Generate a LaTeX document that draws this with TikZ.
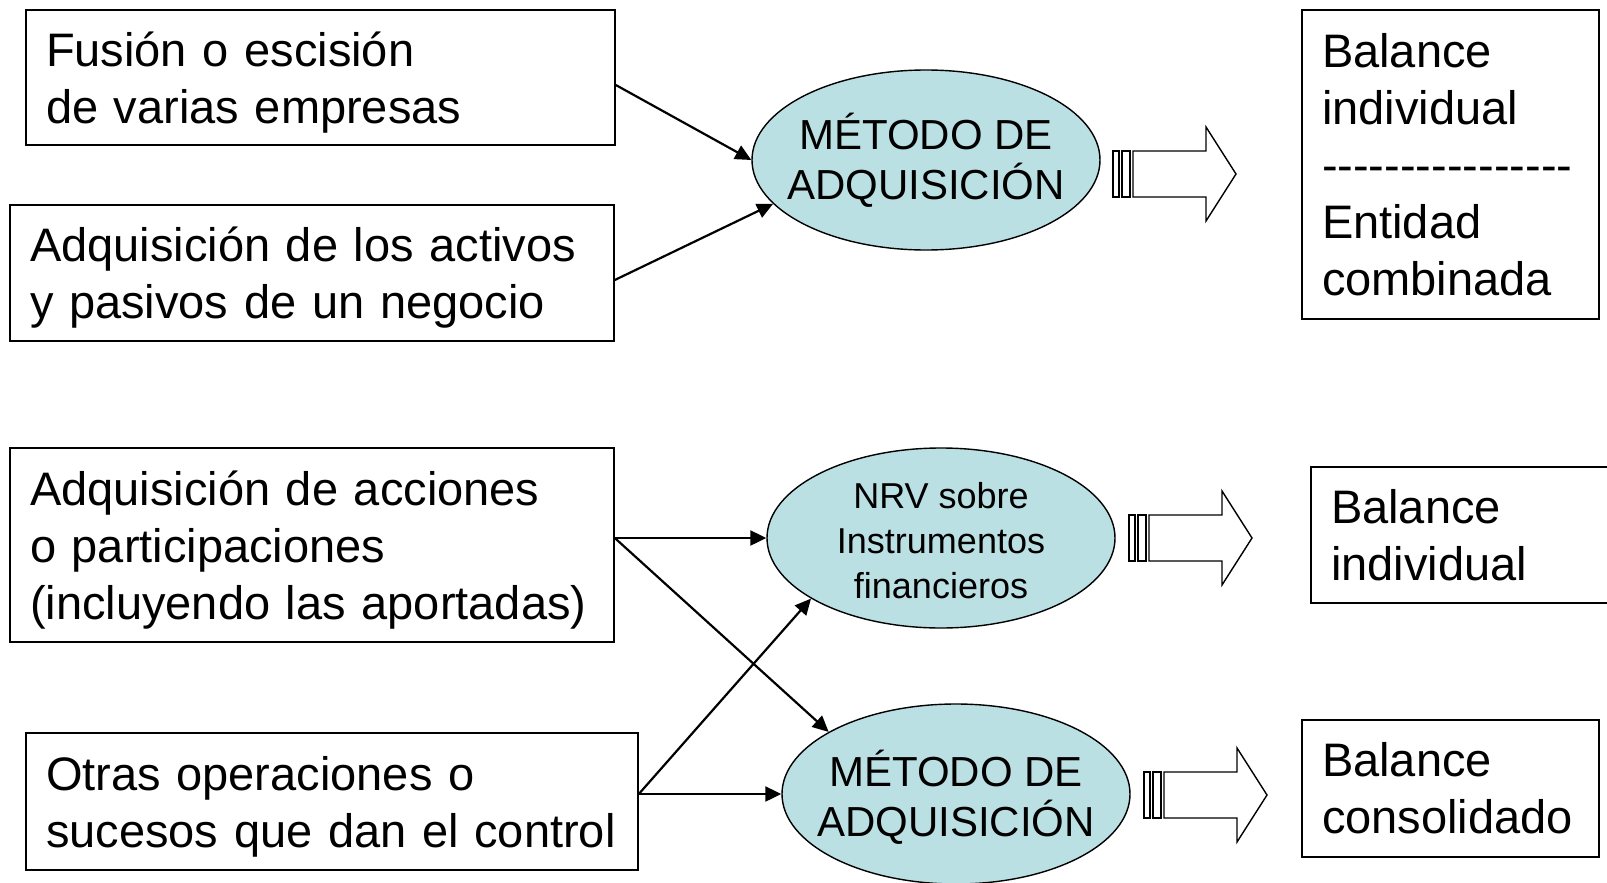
\documentclass[tikz,border=0pt]{standalone}
\usepackage{fontspec}
\setmainfont{Liberation Sans}[Ligatures=TeXOff]
\usepackage{tikz}
\usetikzlibrary{arrows.meta, shapes.geometric}
\definecolor{celeste}{RGB}{187,224,227}

\tikzset{
  caja/.style={draw, line width=1.6pt, inner xsep=20pt, inner ysep=0pt, text width=#1,
    align=left, font=\fontsize{47}{57}\selectfont},
  % las lineas con descendentes quedan altas
  bajar/.style={execute at end node={\par\vspace{-10pt}}},
  metodo/.style={draw, ellipse, line width=1.4pt, fill=celeste, inner sep=0pt,
    minimum width=348pt, minimum height=180pt},
  rotulo/.style={align=center, inner sep=0pt},
  flecha/.style={line width=2.2pt, -{Triangle[length=16pt,width=15pt]}},
  flechabloque/.pic={
    \draw[line width=1.4pt, fill=white] (0,-23) rectangle (6,23);
    \draw[line width=1.4pt, fill=white] (9,-23) rectangle (17,23);
    \draw[line width=1.4pt, fill=white] (20,-23) -- (93,-23) -- (93,-47) -- (123,0)
      -- (93,47) -- (93,23) -- (20,23) -- cycle;
  }
}

\begin{document}
\begin{tikzpicture}[x=1pt, y=-1pt]
    \useasboundingbox (0,0) rectangle (1607,883);
    \clip (0,0) rectangle (1607,883);

    % cajas de la izquierda
    \node [caja=549pt, bajar, minimum height=135pt] (fusion) at (320.5,77.5) {Fusión o escisión\\de varias empresas};
    \node [caja=564pt, bajar, minimum height=136pt] (activos) at (312,273) {Adquisición de los activos\\y pasivos de un negocio};
    \node [caja=564pt, bajar, minimum height=194pt] (acciones) at (312,545) {Adquisición de acciones\\o participaciones\\(incluyendo las aportadas)};
    \node [caja=572pt, bajar, minimum height=137pt] (otras) at (332,801.5) {Otras operaciones o\\sucesos que dan el control};

    % elipses
    \node [metodo] (metodo1) at (926,160) {};
    \node [metodo] (nrv) at (941,538) {};
    \node [metodo] (metodo2) at (956,794) {};
    \node [rotulo, font=\fontsize{42}{50}\selectfont] (texto1) at (metodo1) {MÉTODO DE\\ADQUISICIÓN};
    \node [rotulo, font=\fontsize{36}{45}\selectfont] (texto2) at ([yshift=-3pt]nrv.center) {NRV sobre\\Instrumentos\\financieros};
    \node [rotulo, font=\fontsize{42}{50}\selectfont] (texto3) at ([yshift=-3pt]metodo2.center) {MÉTODO DE\\ADQUISICIÓN};

    % cajas de la derecha
    \node [caja=257pt, minimum height=309pt] (balance1) at (1450.5,164.5) {Balance\\individual\\----------------\\Entidad\\combinada};
    \node [caja=258pt, minimum height=136pt] (balance2) at (1460,535) {Balance\\individual};
    \node [caja=257pt, minimum height=137pt] (balance3) at (1450.5,788.5) {Balance\\consolidado};

    \pic at (1113,174) {flechabloque};
    \pic at (1129,538) {flechabloque};
    \pic at (1144,795) {flechabloque};

    \draw [flecha] ([yshift=-7.5pt]fusion.east) -- (metodo1.west);
    \draw [flecha] ([yshift=-7pt]activos.east) -- (metodo1.196);
    \draw [flecha] ([yshift=7pt]acciones.east) -- (nrv.west);
    \draw [flecha] ([yshift=7pt]acciones.east) -- (metodo2.154.7);
    \draw [flecha] ([yshift=7.5pt]otras.east) -- (nrv.205.7);
    \draw [flecha] ([yshift=7.5pt]otras.east) -- (metodo2.west);
\end{tikzpicture}
\end{document}
